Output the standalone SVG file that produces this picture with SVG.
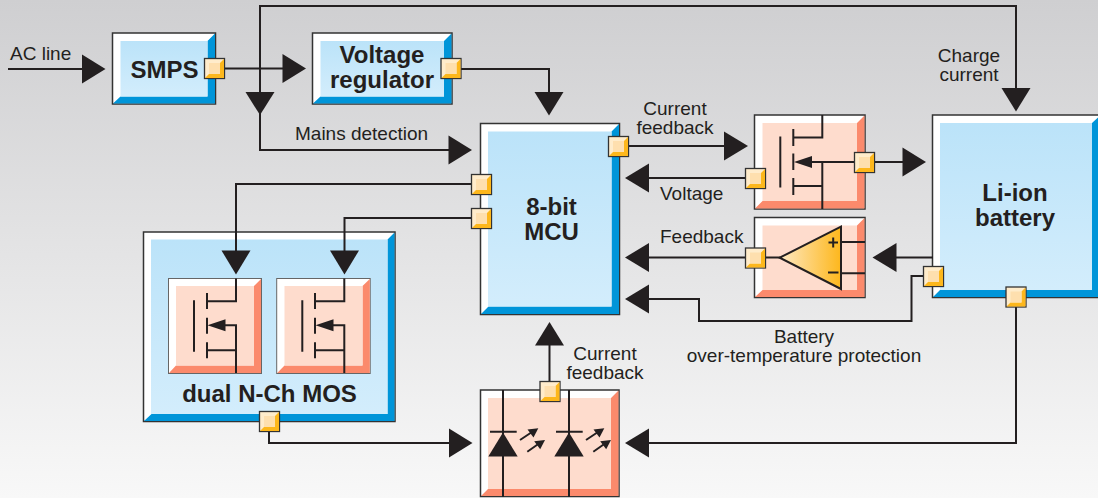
<svg xmlns="http://www.w3.org/2000/svg" width="1098" height="498" viewBox="0 0 1098 498">
<style>
text{font-family:"Liberation Sans",Arial,sans-serif;fill:#231f20;font-size:19px}
.t{font-weight:bold;font-size:24px;text-anchor:middle}
.m{text-anchor:middle}
.out{fill:#fff;stroke:#333;stroke-width:1.5}
.bb{fill:#0095d9}
.bi{fill:url(#blue)}
.pb{fill:#fb8a6c}
.pi{fill:#fedccd}
.w{fill:none;stroke:#231f20;stroke-width:2}
.s{fill:none;stroke:#231f20;stroke-width:2}
.a{fill:#231f20}
</style>
<defs>
<linearGradient id="bg" x1="0" y1="0" x2="0" y2="1"><stop offset="0" stop-color="#cfcfd1"/><stop offset="1" stop-color="#f8f8f8"/></linearGradient>
<linearGradient id="blue" x1="0" y1="0" x2="0" y2="1"><stop offset="0" stop-color="#bbe3f9"/><stop offset="1" stop-color="#d3edfc"/></linearGradient>
<linearGradient id="amp" x1="0" y1="0" x2="1" y2="0"><stop offset="0" stop-color="#fee9c4"/><stop offset="1" stop-color="#fdb71c"/></linearGradient>
<g id="port">
<rect x="0.5" y="0.5" width="20" height="20" fill="#ffeccb" stroke="#333" stroke-width="1.3"/>
<polygon points="20,1 20,20 1,20 5,16 16,16 16,5" fill="#fdb71c"/>
<rect x="5" y="5" width="11" height="11" fill="#fedfae"/>
</g>
</defs>
<rect width="1098" height="498" fill="url(#bg)"/>

<g id="smps">
<rect class="out" x="112.500" y="33" width="103" height="71"/>
<polygon class="bb" points="215,33.500 215,103.500 113,103.500 120.500,96.500 207.500,96.500 207.500,41"/>
<rect class="bi" x="120.500" y="41" width="87" height="55.500"/>
<text class="t" x="164.500" y="78">SMPS</text>
</g>

<g id="voltage-regulator">
<rect class="out" x="312.500" y="33" width="139.500" height="71"/>
<polygon class="bb" points="451.500,33.500 451.500,103.500 313,103.500 320.500,96.500 444,96.500 444,41"/>
<rect class="bi" x="320.500" y="41" width="123.500" height="55.500"/>
<text class="t" x="382" y="63">Voltage</text>
<text class="t" x="382" y="88">regulator</text>
</g>

<g id="mcu">
<rect class="out" x="480.500" y="123.500" width="139" height="191"/>
<polygon class="bb" points="619,124 619,314 481,314 488.500,306.500 611.500,306.500 611.500,131.500"/>
<rect class="bi" x="488" y="131.500" width="123.500" height="175"/>
<text class="t" x="551.500" y="215">8-bit</text>
<text class="t" x="551.500" y="240">MCU</text>
</g>

<g id="mos-top">
<rect class="out" x="754.500" y="115" width="110.500" height="94"/>
<polygon class="pb" points="864.500,115.500 864.500,208.500 755,208.500 762.500,201 857,201 857,123"/>
<rect class="pi" x="762.500" y="123" width="94.500" height="78"/>
<path class="s" d="M780.300 136.500V187.500M793.300 129V146M793.300 153.500V170M793.300 178V195M793.300 137.500H822.300V115M793.300 186H822.300M822.300 209V162M811 162H855"/>
<polygon class="a" points="794,162 812,156 812,168"/>
</g>

<g id="opamp">
<rect class="out" x="754.500" y="217.500" width="110.500" height="80"/>
<polygon class="pb" points="864.500,218 864.500,297 755,297 762.500,290 857,290 857,225.500"/>
<rect class="pi" x="762.500" y="225.500" width="94.500" height="64.500"/>
<path class="s" d="M765 257.500H780M841 242H865M841 273.300H865"/>
<polygon points="779.700,257.700 841,226.700 841,289" fill="url(#amp)" stroke="#231f20" stroke-width="2"/>
<path d="M828.500 242.500H838M833.200 237.500V247.500M828 272.500H838.500" fill="none" stroke="#231f20" stroke-width="2"/>
</g>

<g id="battery">
<rect class="out" x="932.500" y="115" width="168" height="182.500"/>
<polygon class="bb" points="1100,115.500 1100,297 933,297 940,290 1092,290 1092,123"/>
<rect class="bi" x="940" y="123" width="152" height="167"/>
<text class="t" x="1015" y="201">Li-ion</text>
<text class="t" x="1015" y="226">battery</text>
</g>

<g id="dual-mos">
<rect class="out" x="143.500" y="232" width="251.500" height="189.500"/>
<polygon class="bb" points="394.500,232.500 394.500,421 144,421 151.500,414 387.500,414 387.500,239.500"/>
<rect class="bi" x="151" y="239.500" width="236.500" height="174.500"/>
<g id="mos-left">
<rect x="168.500" y="278.500" width="93" height="95" fill="#fff" stroke="#666" stroke-width="1"/>
<polygon class="pb" points="261,279 261,373 169,373 176,365.500 254,365.500 254,286"/>
<rect class="pi" x="176" y="286" width="78" height="79.500"/>
<path class="s" d="M194 300.300V351.700M207 293V309M207 317.700V333.700M207 342.300V358.300M207 301.300H236V278.500M207 350.300H236M236 373V325.300H225"/>
<polygon class="a" points="207.500,325.300 225.500,319.300 225.500,331.300"/>
</g>
<g id="mos-right">
<rect x="276.700" y="278.500" width="93.500" height="95" fill="#fff" stroke="#666" stroke-width="1"/>
<polygon class="pb" points="369.800,279 369.800,373 277.200,373 284.500,365.500 362.500,365.500 362.500,286"/>
<rect class="pi" x="284.500" y="286" width="78" height="79.500"/>
<path class="s" d="M302.300 300.300V351.700M315 293V309M315 317.700V333.700M315 342.300V358.300M315 301.300H344.300V278.500M315 350.300H344.300M344.300 373V325.300H333"/>
<polygon class="a" points="315.500,325.300 333.500,319.300 333.500,331.300"/>
</g>
<text class="t" x="269.500" y="402">dual N-Ch MOS</text>
</g>

<g id="led">
<rect class="out" x="480.500" y="390" width="138.500" height="106.500"/>
<polygon class="pb" points="618.500,390.500 618.500,496 481,496 488,489 611,489 611,398"/>
<rect class="pi" x="488" y="398" width="123" height="91"/>
<path class="s" d="M503 390V497M490 431.700H516.700M569 390V497M556 431.700H582.700"/>
<polygon class="a" points="503,432.500 517.700,456.500 488.300,456.500"/>
<polygon class="a" points="569,432.500 583.700,456.500 554.300,456.500"/>
<path class="s" d="M520 440L532 432M527.300 451.700L539 443.500M586 440L598 432M593.300 451.700L605 443.500"/>
<polygon class="a" points="538.300,428.300 533.500,437.500 527.500,429.500"/>
<polygon class="a" points="545,440 540.200,449.200 534.200,441.200"/>
<polygon class="a" points="604.300,428.300 599.500,437.500 593.500,429.500"/>
<polygon class="a" points="611,440 606.200,449.200 600.200,441.200"/>
</g>

<g id="connectors">
<path class="w" d="M8 69H84"/>
<path class="w" d="M224 68.500H284M260 6V94M260 113V150H450M259 6H1016V90"/>
<path class="w" d="M461 69H549V94"/>
<path class="w" d="M628 146H726"/>
<path class="w" d="M649 178H746"/>
<path class="w" d="M649 257.500H746"/>
<path class="w" d="M874 162H904"/>
<path class="w" d="M895 257.500H933"/>
<path class="w" d="M923 276H911.500V321H699V299H649"/>
<path class="w" d="M1016 307V443H649"/>
<path class="w" d="M471 184H236V252"/>
<path class="w" d="M471 218H344.500V252"/>
<path class="w" d="M269 432V443H451"/>
<path class="w" d="M549.500 381V344"/>
<g class="a">
<polygon points="82,54.500 105.500,69 82,83.500"/>
<polygon points="282.500,54 306,68.500 282.500,83"/>
<polygon points="245.500,92 274.500,92 260,115"/>
<polygon points="534.500,92 563.500,92 549,115.500"/>
<polygon points="1001.500,88 1030.500,88 1016,111.500"/>
<polygon points="448.500,135.500 472,150 448.500,164.500"/>
<polygon points="724,131.500 748,146 724,160.500"/>
<polygon points="649,163.500 625,178 649,192.500"/>
<polygon points="649,243 625,257.500 649,272"/>
<polygon points="649,284.500 625,299 649,313.500"/>
<polygon points="902.500,147.500 926,162 902.500,176.500"/>
<polygon points="896.500,243 872.500,257.500 896.500,272"/>
<polygon points="221.500,250.500 250.500,250.500 236,274.500"/>
<polygon points="330,250.500 359,250.500 344.500,274.500"/>
<polygon points="535,345.500 564,345.500 549.500,322"/>
<polygon points="449,428.500 472.500,443 449,457.500"/>
<polygon points="649,428.500 625,443 649,457.500"/>
</g>
</g>

<g id="ports">
<use href="#port" x="204" y="58"/>
<use href="#port" x="440.500" y="58"/>
<use href="#port" x="608" y="136"/>
<use href="#port" x="471" y="174"/>
<use href="#port" x="471" y="208"/>
<use href="#port" x="745" y="168"/>
<use href="#port" x="854" y="152"/>
<use href="#port" x="745" y="247.500"/>
<use href="#port" x="923" y="266"/>
<use href="#port" x="1005.500" y="286.500"/>
<use href="#port" x="259" y="411"/>
<use href="#port" x="539.500" y="381"/>
</g>

<g id="labels">
<text x="10" y="60">AC line</text>
<text x="295" y="140">Mains detection</text>
<text class="m" x="675" y="115">Current</text>
<text class="m" x="675" y="134">feedback</text>
<text class="m" x="969" y="62">Charge</text>
<text class="m" x="969" y="81">current</text>
<text x="660" y="200">Voltage</text>
<text x="660" y="243">Feedback</text>
<text class="m" x="804" y="343">Battery</text>
<text class="m" x="804" y="362">over-temperature protection</text>
<text class="m" x="605" y="360">Current</text>
<text class="m" x="605" y="379">feedback</text>
</g>
</svg>
